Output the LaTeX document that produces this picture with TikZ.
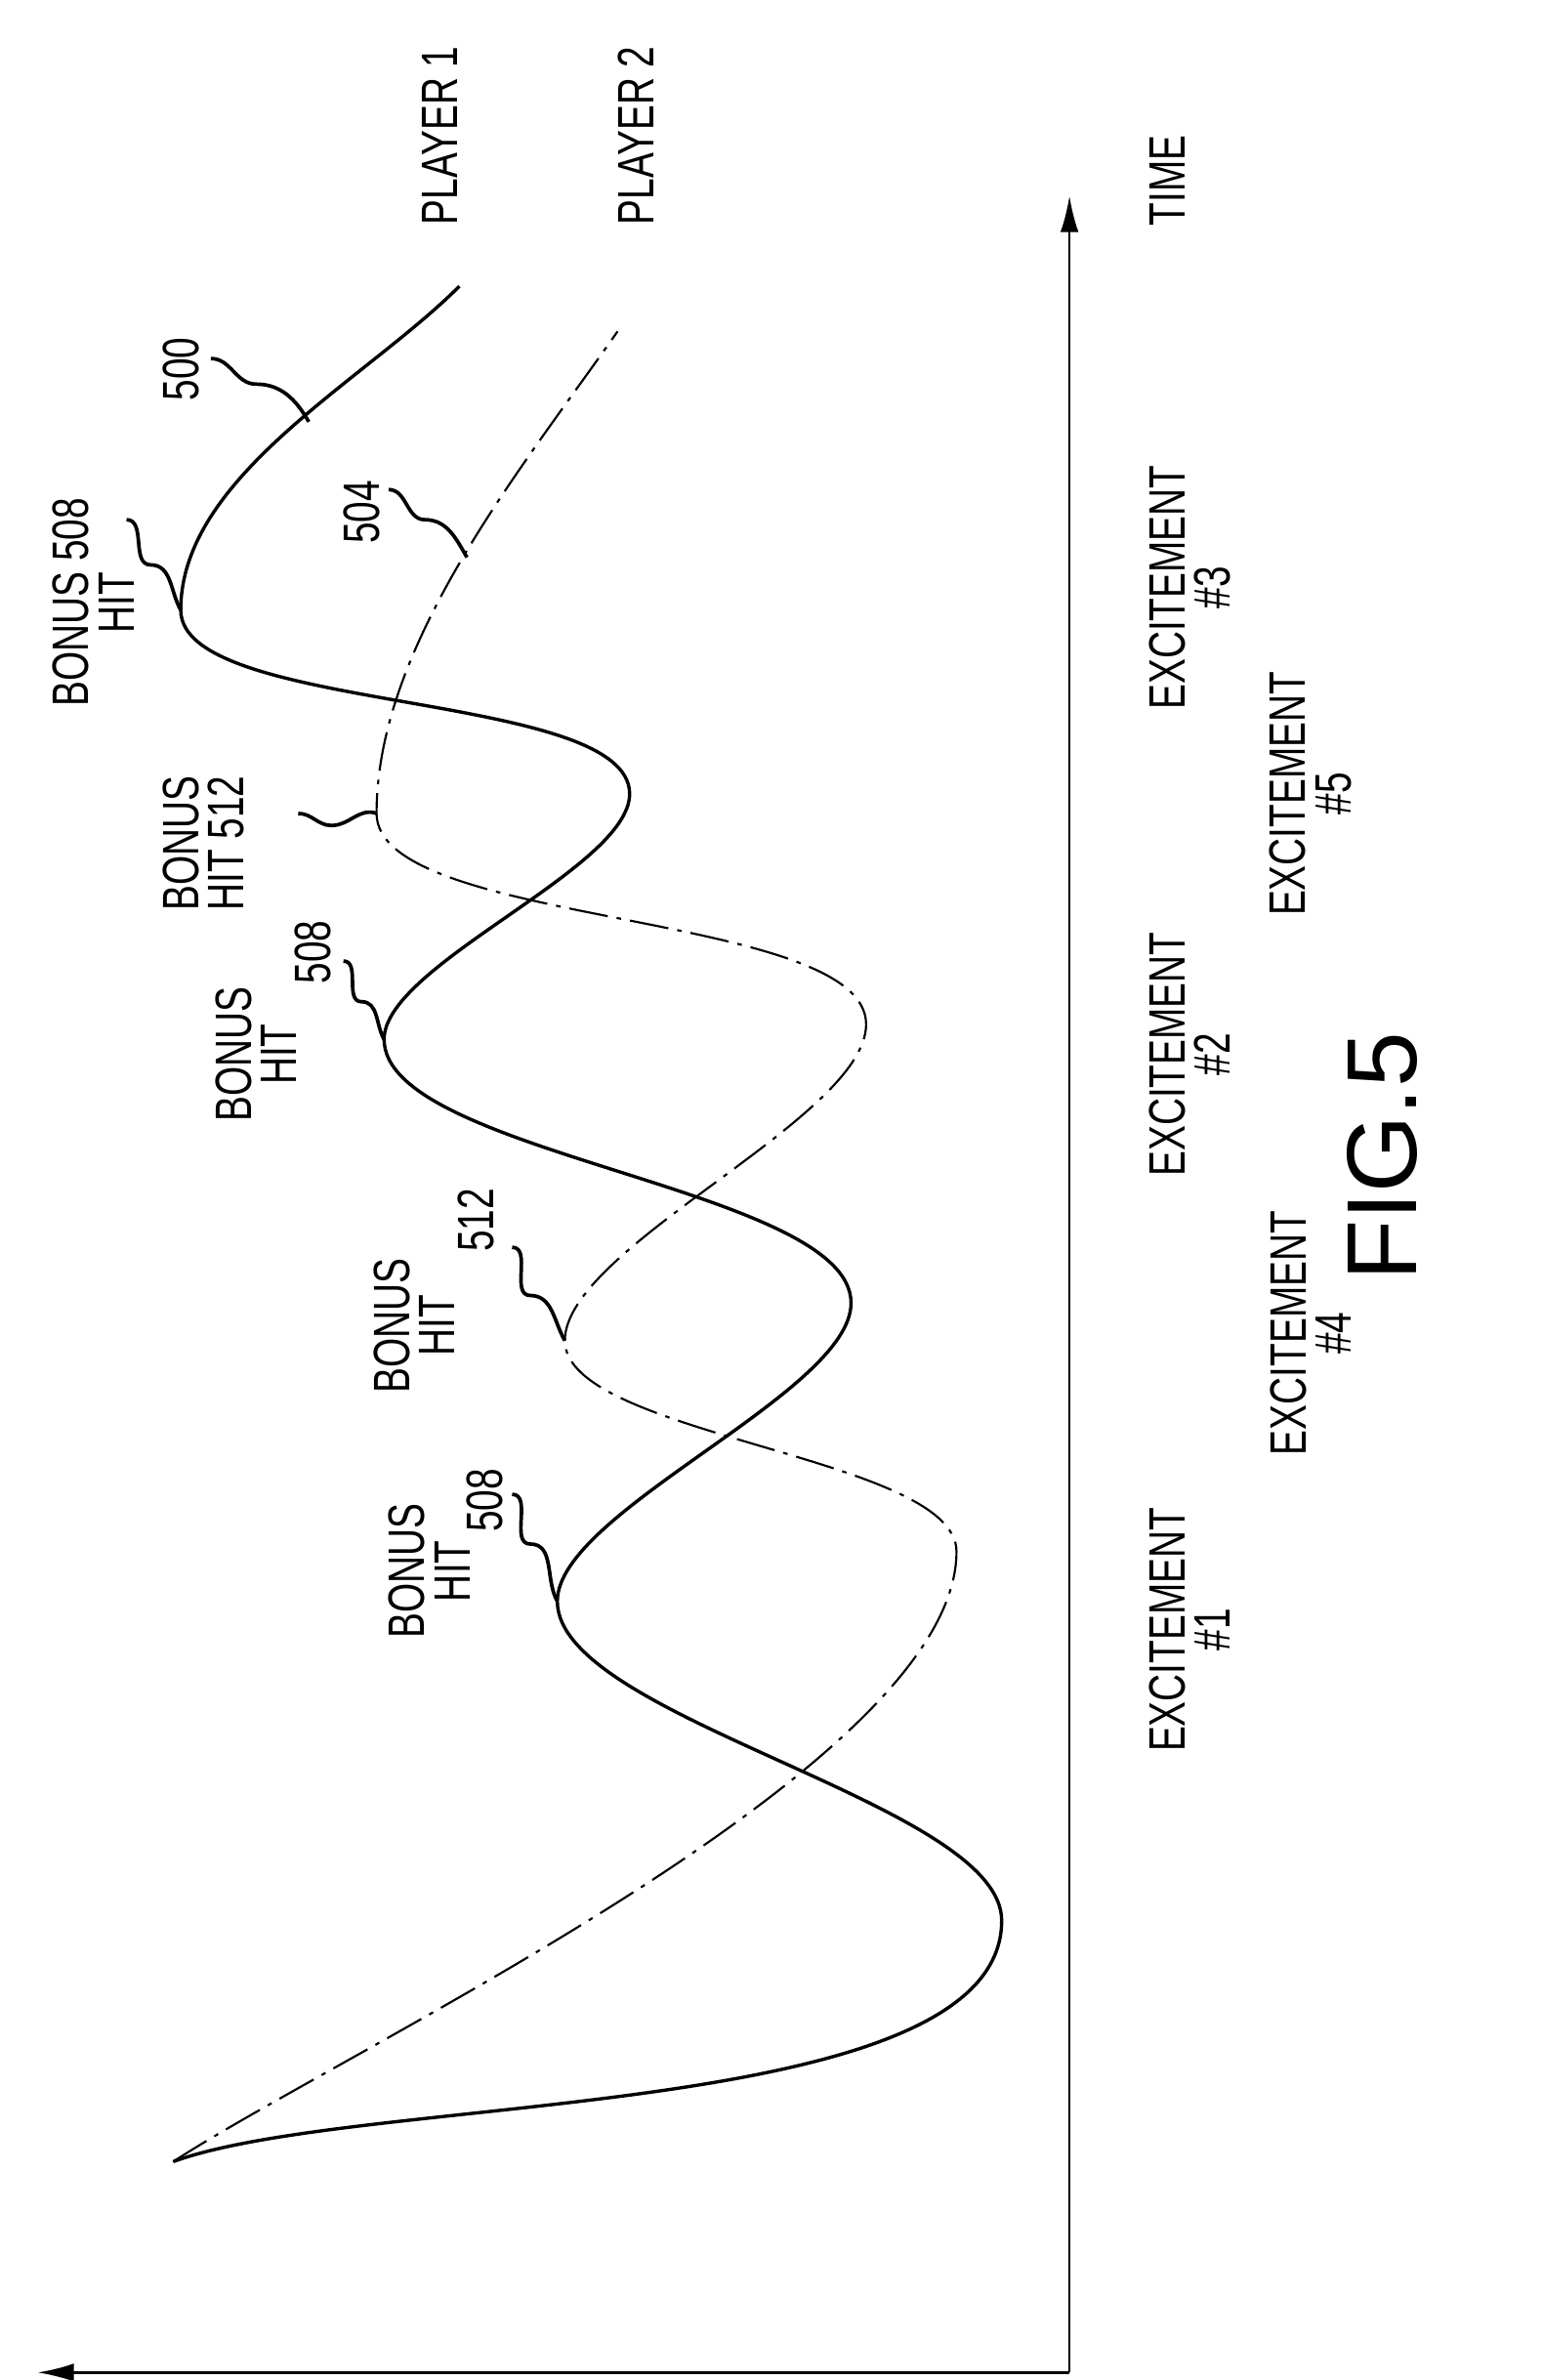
\documentclass[tikz,border=0pt]{standalone}
\usepackage{tikz}
\usetikzlibrary{arrows.meta}
\usepackage{fontspec}
\setmainfont{Liberation Sans}
\newfontfamily\narrowfont[FakeStretch=0.74]{Liberation Sans}
\begin{document}
\begin{tikzpicture}[x=1pt,y=1pt,
	lbl/.style={rotate=90,align=center,font=\fontsize{34}{30}\selectfont\narrowfont},
	curveA/.style={line width=2.2pt,looseness=0.55},
	curveB/.style={line width=1.4pt,looseness=0.55,dash pattern=on 26pt off 6pt on 3pt off 6pt},
	lead/.style={line width=2.4pt}]
	\useasboundingbox (0,0) rectangle (1024,-1580);
	% axes
	\coordinate (O) at (710,-1575);
	\draw[line width=1.6pt,-{Latex[length=24pt,width=12pt]}] (O) -- (710,-130);
	\draw[line width=1.6pt,-{Latex[length=24pt,width=12pt]}] (O) -- (25,-1575);
	\node[lbl] (p1) at (292,-90) {PLAYER 1};
	\node[lbl] (p2) at (422,-90) {PLAYER 2};
	\node[lbl] (time) at (775,-120) {TIME};
	\node[rotate=90,font=\fontsize{66}{66}\selectfont] (fig) at (918,-768) {FIG.5};
	% curves
	\coordinate (s) at (115,-1435);
	\coordinate (a1) at (665,-1275);
	\coordinate (a2) at (370,-1063);
	\coordinate (a3) at (565,-865);
	\coordinate (a4) at (255,-690);
	\coordinate (a5) at (418,-527);
	\coordinate (a6) at (120,-405);
	\coordinate (a7) at (305,-190);
	\draw[curveA] (s) to[out=20,in=270,looseness=0.6] (a1) to[out=90,in=270] (a2)
		to[out=90,in=270] (a3) to[out=90,in=270] (a4) to[out=90,in=270] (a5)
		to[out=90,in=270] (a6) to[out=90,in=225,looseness=0.8] (a7);
	\coordinate (b1) at (635,-1030);
	\coordinate (b2) at (375,-890);
	\coordinate (b3) at (575,-680);
	\coordinate (b4) at (250,-540);
	\coordinate (b5) at (410,-220);
	\draw[curveB] (s) to[out=33,in=270] (b1) to[out=90,in=270] (b2)
		to[out=90,in=270] (b3) to[out=90,in=270] (b4) to[out=90,in=235,looseness=0.8] (b5);
	% labels and leaders
	\node[lbl] (l500) at (120,-245) {500};
	\node[lbl] (l504) at (240,-340) {504};
	\node[lbl] (h1) at (62,-400) {BONUS 508\\HIT};
	\node[lbl] (h2) at (135,-560) {BONUS\\HIT 512};
	\node[lbl] (h3) at (170,-700) {BONUS\\HIT};
	\node[lbl] (n3) at (208,-632) {508};
	\node[lbl] (h4) at (275,-880) {BONUS\\HIT};
	\node[lbl] (n4) at (316,-810) {512};
	\node[lbl] (h5) at (285,-1043) {BONUS\\HIT};
	\node[lbl] (n5) at (322,-996) {508};
	\coordinate (c500) at (205,-280);
	\coordinate (c504) at (310,-370);
	\draw[lead] (140,-238) to[out=0,in=180] (170,-255) to[out=0,in=120] (c500);
	\draw[lead] (258,-325) to[out=0,in=180] (282,-345) to[out=0,in=120] (c504);
	\draw[lead] (84,-345) to[out=0,in=180] (100,-375) to[out=0,in=120] (a6);
	\draw[lead] (198,-540) to[out=0,in=180] (220,-548) to[out=0,in=160] (b4);
	\draw[lead] (228,-638) to[out=0,in=180] (240,-665) to[out=0,in=120] (a4);
	\draw[lead] (340,-828) to[out=0,in=180] (352,-860) to[out=0,in=120] (b2);
	\draw[lead] (340,-992) to[out=0,in=180] (352,-1025) to[out=0,in=120] (a2);
	% excitement
	\node[lbl] (e1) at (790,-1082) {EXCITEMENT\\\#1};
	\node[lbl] (e4) at (870,-885) {EXCITEMENT\\\#4};
	\node[lbl] (e2) at (790,-700) {EXCITEMENT\\\#2};
	\node[lbl] (e5) at (870,-527) {EXCITEMENT\\\#5};
	\node[lbl] (e3) at (790,-390) {EXCITEMENT\\\#3};
\end{tikzpicture}
\end{document}
